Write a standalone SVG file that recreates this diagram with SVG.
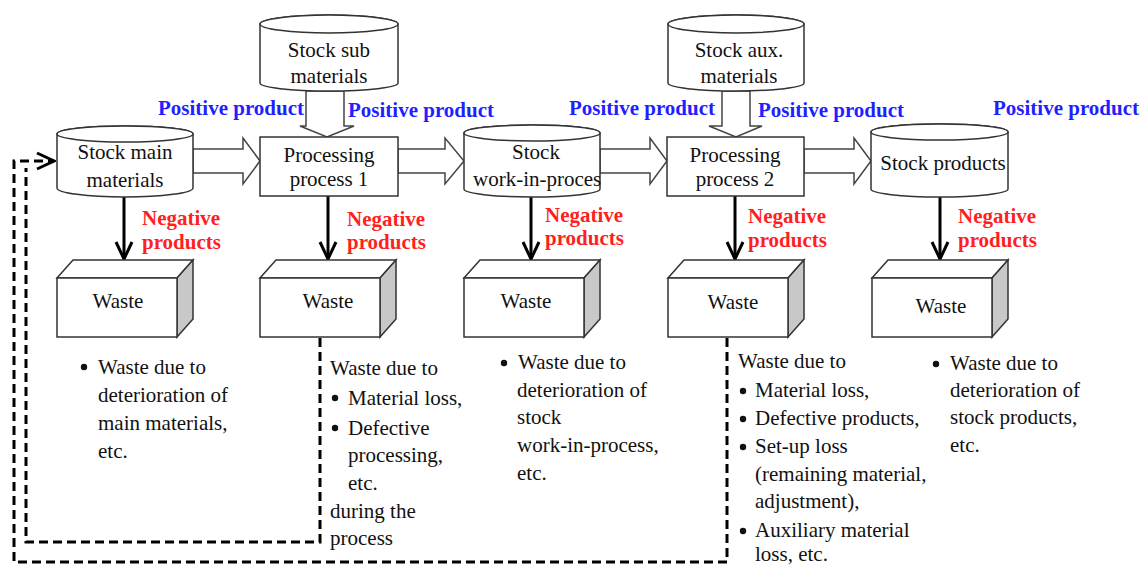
<svg xmlns="http://www.w3.org/2000/svg" width="1142" height="567" viewBox="0 0 1142 567">
<style>
text{font-family:'Liberation Serif','DejaVu Serif',serif;font-size:21px;fill:#111}
.c{text-anchor:middle}
.pos{fill:#1f1fff;font-weight:bold}
.neg{fill:#ff1f1f;font-weight:bold}
.shape{fill:#fff;stroke:#333;stroke-width:1.5}
.side{fill:#c8c8c8;stroke:#333;stroke-width:1.5}
.blk{fill:#fff;stroke:#444;stroke-width:1.5}
.down{fill:none;stroke:#000;stroke-width:3}
.dash{fill:none;stroke:#000;stroke-width:3;stroke-dasharray:9 5}
</style>
<defs>
<marker id="v" viewBox="0 0 20 20" refX="18" refY="10" markerWidth="20" markerHeight="20" markerUnits="userSpaceOnUse" orient="auto">
<path d="M1,2 L18,10 L1,18" fill="none" stroke="#000" stroke-width="3"/>
</marker>
</defs>

<g id="connectors">
<polygon class="blk" points="193,149 243,149 243,138 260,161 243,184 243,173 193,173"/>
<polygon class="blk" points="398,149 445,149 445,138 464,161 445,184 445,173 398,173"/>
<polygon class="blk" points="600,149 650,149 650,138 667,161 650,184 650,173 600,173"/>
<polygon class="blk" points="804,149 854,149 854,138 871,161 854,184 854,173 804,173"/>
<polygon class="blk" points="306,91 344,91 344,126 354,126 327,137 300,126 306,126"/>
<polygon class="blk" points="722,91 750,91 750,126 762,126 736,137 709,126 722,126"/>
<line class="down" x1="124" y1="197" x2="124" y2="259" marker-end="url(#v)"/>
<line class="down" x1="328" y1="196" x2="328" y2="259" marker-end="url(#v)"/>
<line class="down" x1="531" y1="197" x2="531" y2="259" marker-end="url(#v)"/>
<line class="down" x1="735" y1="196" x2="735" y2="259" marker-end="url(#v)"/>
<line class="down" x1="940" y1="197" x2="940" y2="259" marker-end="url(#v)"/>
<path class="dash" d="M727,338 V562 H14 V161 H54" marker-end="url(#v)"/>
<path class="dash" d="M320,338 V542 H26 V168"/>
</g>

<g id="stock-sub">
<path class="shape" d="M260,24 A69,9 0 0 1 398,24 V83 A69,8 0 0 1 260,83 Z"/>
<ellipse class="shape" cx="329" cy="24" rx="69" ry="9"/>
<text class="c" x="329" y="57">Stock sub</text>
<text class="c" x="329" y="83">materials</text>
</g>
<g id="stock-aux">
<path class="shape" d="M668,24 A68,9 0 0 1 804,24 V83 A68,8 0 0 1 668,83 Z"/>
<ellipse class="shape" cx="736" cy="24" rx="68" ry="9"/>
<text class="c" x="739" y="57">Stock aux.</text>
<text class="c" x="739" y="83">materials</text>
</g>
<g id="stock-main">
<path class="shape" d="M57,134 A68,8 0 0 1 193,134 V188 A68,9 0 0 1 57,188 Z"/>
<ellipse class="shape" cx="125" cy="134" rx="68" ry="8"/>
<text class="c" x="125" y="159">Stock main</text>
<text class="c" x="125" y="187">materials</text>
</g>
<g id="process-1">
<rect class="shape" x="260" y="137" width="138" height="59"/>
<text class="c" x="329" y="162">Processing</text>
<text class="c" x="329" y="186">process 1</text>
</g>
<g id="stock-wip">
<path class="shape" d="M464,133 A68,8 0 0 1 600,133 V189 A68,8 0 0 1 464,189 Z"/>
<ellipse class="shape" cx="532" cy="133" rx="68" ry="8"/>
<text class="c" x="536" y="159">Stock</text>
<text x="473" y="186">work-in-proces</text>
</g>
<g id="process-2">
<rect class="shape" x="667" y="137" width="137" height="59"/>
<text class="c" x="735" y="162">Processing</text>
<text class="c" x="735" y="186">process 2</text>
</g>
<g id="stock-products">
<path class="shape" d="M871,132 A68.5,8 0 0 1 1008,132 V189 A68.5,8 0 0 1 871,189 Z"/>
<ellipse class="shape" cx="939.5" cy="132" rx="68.5" ry="8"/>
<text class="c" x="943" y="170">Stock products</text>
</g>

<g id="positive-labels">
<text class="pos" x="158" y="115">Positive product</text>
<text class="pos" x="348" y="117">Positive product</text>
<text class="pos" x="569" y="115">Positive product</text>
<text class="pos" x="758" y="117">Positive product</text>
<text class="pos" x="993" y="115">Positive product</text>
</g>
<g id="negative-labels">
<text class="neg" x="142" y="225">Negative</text>
<text class="neg" x="142" y="249">products</text>
<text class="neg" x="347" y="226">Negative</text>
<text class="neg" x="347" y="249">products</text>
<text class="neg" x="545" y="222">Negative</text>
<text class="neg" x="545" y="245">products</text>
<text class="neg" x="748" y="223">Negative</text>
<text class="neg" x="748" y="247">products</text>
<text class="neg" x="958" y="223">Negative</text>
<text class="neg" x="958" y="247">products</text>
</g>

<g id="waste-1">
<polygon class="shape" points="57,278 73,260 193,260 177,278"/>
<polygon class="side" points="177,278 193,260 193,319 177,337"/>
<rect class="shape" x="57" y="278" width="120" height="59"/>
<text class="c" x="118" y="308">Waste</text>
</g>
<g id="waste-2">
<polygon class="shape" points="260,278 276,260 396,260 380,278"/>
<polygon class="side" points="380,278 396,260 396,319 380,337"/>
<rect class="shape" x="260" y="278" width="120" height="59"/>
<text class="c" x="328" y="308">Waste</text>
</g>
<g id="waste-3">
<polygon class="shape" points="464,278 480,260 600,260 584,278"/>
<polygon class="side" points="584,278 600,260 600,319 584,337"/>
<rect class="shape" x="464" y="278" width="120" height="59"/>
<text class="c" x="526" y="308">Waste</text>
</g>
<g id="waste-4">
<polygon class="shape" points="668,278 684,260 804,260 788,278"/>
<polygon class="side" points="788,278 804,260 804,319 788,337"/>
<rect class="shape" x="668" y="278" width="120" height="59"/>
<text class="c" x="733" y="309">Waste</text>
</g>
<g id="waste-5">
<polygon class="shape" points="872,278 888,260 1008,260 992,278"/>
<polygon class="side" points="992,278 1008,260 1008,319 992,337"/>
<rect class="shape" x="872" y="278" width="120" height="59"/>
<text class="c" x="941" y="313">Waste</text>
</g>

<g id="notes">
<circle cx="84" cy="367" r="3.2" fill="#111"/>
<text x="98" y="374">Waste due to</text>
<text x="98" y="402">deterioration of</text>
<text x="98" y="430">main materials,</text>
<text x="98" y="458">etc.</text>

<text x="330" y="375">Waste due to</text>
<circle cx="335" cy="398" r="3.2" fill="#111"/>
<text x="348" y="405">Material loss,</text>
<circle cx="335" cy="428" r="3.2" fill="#111"/>
<text x="348" y="435">Defective</text>
<text x="348" y="462">processing,</text>
<text x="348" y="490">etc.</text>
<text x="330" y="518">during the</text>
<text x="330" y="545">process</text>

<circle cx="504" cy="363" r="3.2" fill="#111"/>
<text x="518" y="369">Waste due to</text>
<text x="517" y="397">deterioration of</text>
<text x="517" y="424">stock</text>
<text x="517" y="452">work-in-process,</text>
<text x="517" y="480">etc.</text>

<text x="738" y="368">Waste due to</text>
<circle cx="743" cy="391" r="3.2" fill="#111"/>
<text x="755" y="397">Material loss,</text>
<circle cx="743" cy="419" r="3.2" fill="#111"/>
<text x="755" y="425">Defective products,</text>
<circle cx="743" cy="447" r="3.2" fill="#111"/>
<text x="755" y="453">Set-up loss</text>
<text x="755" y="481">(remaining material,</text>
<text x="755" y="508">adjustment),</text>
<circle cx="743" cy="531" r="3.2" fill="#111"/>
<text x="755" y="537">Auxiliary material</text>
<text x="755" y="561">loss, etc.</text>

<circle cx="936" cy="364" r="3.2" fill="#111"/>
<text x="950" y="370">Waste due to</text>
<text x="950" y="397">deterioration of</text>
<text x="950" y="424">stock products,</text>
<text x="950" y="452">etc.</text>
</g>
</svg>
